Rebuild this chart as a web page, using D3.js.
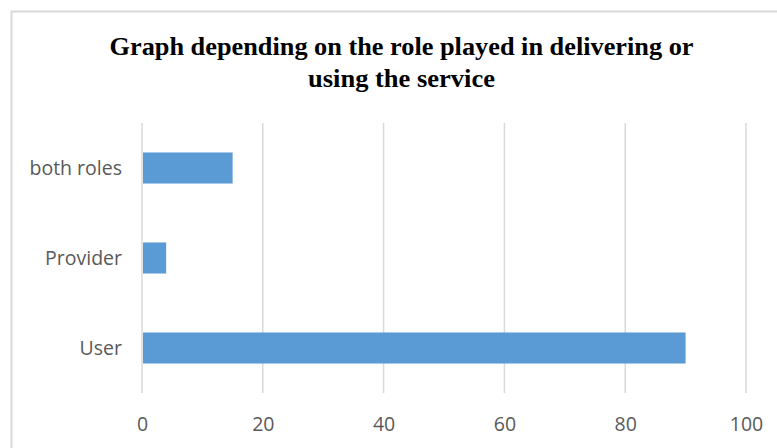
<!DOCTYPE html>
<html><head><meta charset="utf-8">
<script src="https://cdn.jsdelivr.net/npm/d3@7"></script>
<style>body{margin:0;background:#fff}svg{display:block}</style>
</head><body>
<svg id="chart" width="777" height="448"></svg>
<script>
const titleLines = ["Graph depending on the role played in delivering or", "using the service"];
const categories = ["both roles", "Provider", "User"];
const values = [15, 4, 90];
const xTicks = [0, 20, 40, 60, 80, 100];

const svg = d3.select("#chart");
const W = 777, H = 448;
svg.append("rect").attr("x", 11.5).attr("y", 11.5).attr("width", W + 20).attr("height", H + 20)
  .attr("fill", "#fff").attr("stroke", "#d9d9d9").attr("stroke-width", 2);

const m = {left: 142, right: 746, top: 123, bottom: 393};
const x = d3.scaleLinear().domain([0, 100]).range([m.left, m.right]);
const y = d3.scaleBand().domain(categories).range([m.top, m.bottom]).paddingInner(0.655).paddingOuter(0.3275);

// title
const tWidths = [584, 187];
const tBase = [54.5, 86.5];
titleLines.forEach((t, i) => {
  svg.append("text").attr("x", 401.5).attr("y", tBase[i]).attr("text-anchor", "middle")
    .attr("font-family", "'Liberation Serif','Times New Roman',serif").attr("font-weight", "bold")
    .attr("font-size", 26).attr("fill", "#000")
    .attr("textLength", tWidths[i]).attr("lengthAdjust", "spacingAndGlyphs").text(t);
});

// gridlines
svg.append("g").selectAll("line").data(xTicks).join("line")
  .attr("x1", d => x(d)).attr("x2", d => x(d)).attr("y1", m.top).attr("y2", m.bottom)
  .attr("stroke", "#d9d9d9").attr("stroke-width", 1.5);

// bars
svg.append("g").selectAll("rect").data(categories).join("rect")
  .attr("x", x(0) + 1).attr("y", d => y(d)).attr("height", y.bandwidth())
  .attr("width", (d, i) => x(values[i]) - x(0) - 1).attr("fill", "#5b9bd5");

// axes
const xAxis = d3.axisBottom(x).tickValues(xTicks).tickSize(0).tickPadding(0);
const gx = svg.append("g").attr("transform", `translate(0,${m.bottom})`).call(xAxis);
gx.select(".domain").remove();
gx.selectAll("text").attr("dy", null).attr("y", 38).attr("font-family", "'Open Sans',sans-serif")
  .attr("font-size", 19.5).attr("fill", "#595959");

const yAxis = d3.axisLeft(y).tickSize(0).tickPadding(20);
const gy = svg.append("g").attr("transform", `translate(${m.left},1)`).call(yAxis);
gy.select(".domain").remove();
gy.selectAll("text").attr("font-family", "'Open Sans',sans-serif")
  .attr("font-size", 19.5).attr("fill", "#595959");
</script>
</body></html>
